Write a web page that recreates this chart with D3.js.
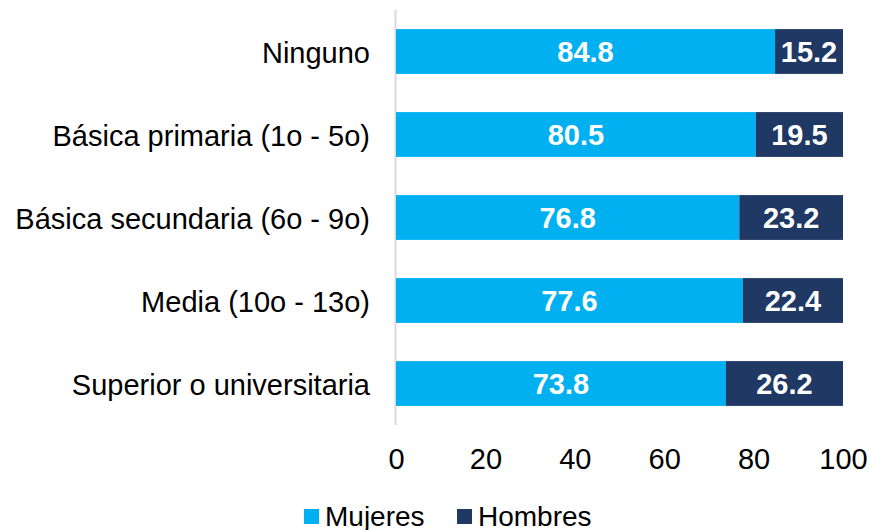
<!DOCTYPE html>
<html>
<head>
<meta charset="utf-8">
<script src="https://cdn.jsdelivr.net/npm/d3@7"></script>
<style>
  body { margin: 0; background: #fff; }
  text { font-family: "Liberation Sans", Arial, sans-serif; }
</style>
</head>
<body>
<svg id="chart" width="871" height="530"></svg>
<script>
const categories = ["Ninguno", "Básica primaria (1o - 5o)", "Básica secundaria (6o - 9o)", "Media (10o - 13o)", "Superior o universitaria"]
const mujeres = [84.8, 80.5, 76.8, 77.6, 73.8]
const hombres = [15.2, 19.5, 23.2, 22.4, 26.2]
const xTicks = [0, 20, 40, 60, 80, 100]
const seriesNames = ["Mujeres", "Hombres"]
const colors = ["#00B0F0", "#203864"]

let data = categories.map((c, i) => ({label: c, mujeres: mujeres[i], hombres: hombres[i]}))

let svg = d3.select("#chart")

let x = d3.scaleLinear().domain([0, 100]).range([396, 843])
let y = d3.scaleBand().domain(categories).range([10, 425]).paddingInner(0.46).paddingOuter(0.23)

// AXIS LINE
svg.append("line")
    .attr("x1", x(0) - 0.5).attr("x2", x(0) - 0.5)
    .attr("y1", 10).attr("y2", 425)
    .attr("stroke", "#d9d9d9")
    .attr("stroke-width", 2)

// BARS MUJERES
svg.selectAll(".bar-m")
    .data(data)
    .enter()
    .append("rect")
        .attr("class", "bar-m")
        .attr("x", x(0))
        .attr("y", d => y(d.label))
        .attr("width", d => x(d.mujeres) - x(0))
        .attr("height", y.bandwidth())
        .attr("fill", colors[0])

// BARS HOMBRES
svg.selectAll(".bar-h")
    .data(data)
    .enter()
    .append("rect")
        .attr("class", "bar-h")
        .attr("x", d => x(d.mujeres))
        .attr("y", d => y(d.label))
        .attr("width", d => x(d.mujeres + d.hombres) - x(d.mujeres))
        .attr("height", y.bandwidth())
        .attr("fill", colors[1])

// BAR LABELS
svg.selectAll(".lab-m")
    .data(data)
    .enter()
    .append("text")
        .attr("x", d => (x(0) + x(d.mujeres)) / 2)
        .attr("y", d => y(d.label) + y.bandwidth() / 2)
        .attr("dy", "0.37em")
        .attr("text-anchor", "middle")
        .attr("fill", "#fff")
        .attr("font-size", 29)
        .attr("font-weight", "bold")
        .text(d => d.mujeres.toFixed(1))

svg.selectAll(".lab-h")
    .data(data)
    .enter()
    .append("text")
        .attr("x", d => (x(d.mujeres) + x(d.mujeres + d.hombres)) / 2)
        .attr("y", d => y(d.label) + y.bandwidth() / 2)
        .attr("dy", "0.37em")
        .attr("text-anchor", "middle")
        .attr("fill", "#fff")
        .attr("font-size", 29)
        .attr("font-weight", "bold")
        .text(d => d.hombres.toFixed(1))

// CATEGORY LABELS
svg.selectAll(".cat")
    .data(categories)
    .enter()
    .append("text")
        .attr("x", 370)
        .attr("y", d => y(d) + y.bandwidth() / 2)
        .attr("dy", "0.38em")
        .attr("text-anchor", "end")
        .attr("fill", "#000")
        .attr("font-size", 29)
        .text(d => d)

// X AXIS TICKS
let xAxis = svg.append("g")
    .attr("transform", "translate(0, 469)")
    .call(d3.axisBottom(x).tickValues(xTicks).tickSize(0).tickPadding(0))
xAxis.select(".domain").remove()
xAxis.selectAll("text")
    .attr("font-size", 29)
    .attr("fill", "#000")
    .attr("dy", 0)
    .style("font-family", "'Liberation Sans', Arial, sans-serif")

// LEGEND
let legendX = [304, 457]
let legend = svg.selectAll(".legend")
    .data(seriesNames)
    .enter()
    .append("g")
        .attr("transform", (d, i) => `translate(${legendX[i]}, 509)`)
legend.append("rect")
    .attr("width", 15).attr("height", 15)
    .attr("fill", (d, i) => colors[i])
legend.append("text")
    .attr("x", 21)
    .attr("y", 17)
    .attr("font-size", 28)
    .attr("fill", "#000")
    .text(d => d)
</script>
</body>
</html>
